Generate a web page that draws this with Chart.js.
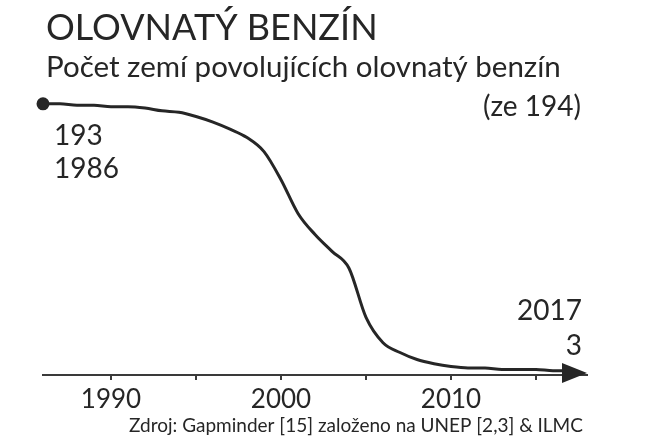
<!DOCTYPE html>
<html lang="cs">
<head>
<meta charset="utf-8">
<title>Olovnatý benzín</title>
<script src="https://cdn.jsdelivr.net/npm/chart.js@4"></script>
<style>
  html, body { margin: 0; padding: 0; background: #fff; }
  #wrap { position: relative; width: 649px; height: 438px; }
</style>
</head>
<body>
<div id="wrap"><canvas id="benzinChart"></canvas></div>
<script>
// data
const years = [1986, 1987, 1988, 1989, 1990, 1991, 1992, 1993, 1994, 1995, 1996,
    1997, 1998, 1999, 2000, 2001, 2002, 2003, 2004, 2005, 2006, 2007, 2008,
    2009, 2010, 2011, 2012, 2013, 2014, 2015, 2016, 2017];
const countries = [193, 193, 192, 192, 191, 191, 190, 188, 187, 184, 180,
    175, 169, 159, 139, 115, 100, 88, 76, 41, 23, 16, 11,
    8, 6, 5, 5, 4, 4, 4, 3, 3];
const xTicks = [1990, 1995, 2000, 2005, 2010, 2015];
const labeledTicks = [1990, 2000, 2010];

const title = 'OLOVNATÝ BENZÍN';
const subtitle = 'Počet zemí povolujících olovnatý benzín';
const totalNote = '(ze 194)';
const source = 'Zdroj: Gapminder [15] založeno na UNEP [2,3] & ILMC';

const ink = '#262626';
const axisInk = '#3a3a3a';
const fontFamily = 'Lato, "Open Sans", sans-serif';

const textPlugin = {
    id: 'pageText',
    afterDraw(chart) {
        const ctx = chart.ctx;
        const x = chart.scales.x;
        const y = chart.scales.y;
        ctx.save();
        ctx.fillStyle = ink;
        ctx.textBaseline = 'alphabetic';

        ctx.textAlign = 'left';
        ctx.font = '36px ' + fontFamily;
        ctx.fillText(title, 46, 40);
        ctx.font = '29.5px ' + fontFamily;
        ctx.fillText(subtitle, 46, 77);
        ctx.font = '28px ' + fontFamily;
        ctx.textAlign = 'right';
        ctx.fillText(totalNote, 581, 116);

        // first / last point notes
        const firstX = x.getPixelForValue(years[0]);
        const firstY = y.getPixelForValue(countries[0]);
        const lastX = x.getPixelForValue(years[years.length - 1]);
        const lastY = y.getPixelForValue(countries[countries.length - 1]);
        ctx.font = '28px ' + fontFamily;
        ctx.textAlign = 'left';
        ctx.fillText(String(countries[0]), firstX + 11, firstY + 41);
        ctx.fillText(String(years[0]), firstX + 11, firstY + 74);
        ctx.textAlign = 'right';
        ctx.fillText(String(years[years.length - 1]), lastX + 12, lastY - 51);
        ctx.fillText(String(countries[countries.length - 1]), lastX + 12, lastY - 16);

        // arrow head at the end of the axis
        const tipX = x.right;
        const midY = (lastY + y.getPixelForValue(0)) / 2;
        ctx.beginPath();
        ctx.moveTo(tipX, midY);
        ctx.lineTo(tipX - 25, midY - 10);
        ctx.lineTo(tipX - 25, midY + 10);
        ctx.closePath();
        ctx.fill();

        ctx.font = '19px ' + fontFamily;
        ctx.textAlign = 'center';
        ctx.fillText(source, 356, 432);
        ctx.restore();
    }
};

const ctx = document.getElementById('benzinChart');
new Chart(ctx, {
    type: 'line',
    data: {
        datasets: [{
            data: years.map((yr, i) => ({ x: yr, y: countries[i] })),
            borderColor: ink,
            backgroundColor: ink,
            borderWidth: 3,
            cubicInterpolationMode: 'monotone',
            pointRadius: years.map((yr, i) => i === 0 ? 5 : 0),
            pointHoverRadius: 0,
            clip: false
        }]
    },
    options: {
        responsive: true,
        maintainAspectRatio: false,
        animation: false,
        layout: { padding: { left: 43, right: 62, top: 94, bottom: 0 } },
        plugins: {
            legend: { display: false },
            tooltip: { enabled: false }
        },
        scales: {
            x: {
                type: 'linear',
                min: 1986,
                max: 2018,
                afterBuildTicks: scale => {
                    scale.ticks = xTicks.map(v => ({ value: v }));
                },
                afterFit: scale => { scale.height = 63; },
                border: { color: axisInk, width: 2 },
                grid: {
                    drawOnChartArea: false,
                    drawTicks: true,
                    tickLength: 5,
                    color: c => (c.tick && xTicks.includes(c.tick.value)) ? axisInk : 'rgba(0,0,0,0)',
                    lineWidth: 2
                },
                ticks: {
                    autoSkip: false,
                    maxRotation: 0,
                    padding: 4,
                    color: ink,
                    font: { family: fontFamily, size: 26 },
                    callback: v => labeledTicks.includes(v) ? String(v) : ''
                }
            },
            y: {
                display: false,
                min: 0,
                max: 200
            }
        }
    },
    plugins: [textPlugin]
});
</script>
</body>
</html>
